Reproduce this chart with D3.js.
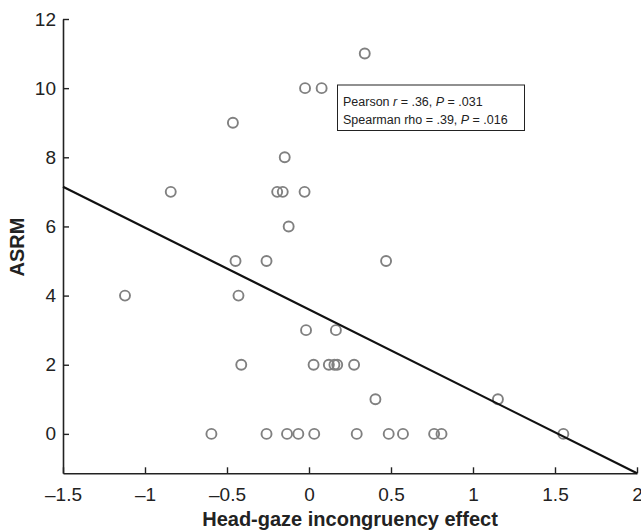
<!DOCTYPE html>
<html>
<head>
<meta charset="utf-8">
<script src="https://cdn.jsdelivr.net/npm/d3@7"></script>
<style>
  body { margin: 0; background: #fff; }
  text { font-family: Arial, "Liberation Sans", Helvetica, sans-serif; }
</style>
</head>
<body>
<div id="chart"></div>
<script>
// values
const effect = [-1.122, -0.843, -0.464, -0.448, -0.43, -0.413, -0.595, -0.259, -0.259, -0.194,
  -0.160, -0.148, -0.124, -0.134, -0.065, -0.024, 0.077, -0.027, 0.340, -0.018,
  0.164, 0.028, 0.121, 0.155, 0.172, 0.275, 0.032, 0.291, 0.405, 0.470,
  0.486, 0.573, 0.763, 0.808, 1.152, 1.551];
const asrm = [4, 7, 9, 5, 4, 2, 0, 5, 0, 7,
  7, 8, 6, 0, 0, 10, 10, 7, 11, 3,
  3, 2, 2, 2, 2, 2, 0, 0, 1, 5,
  0, 0, 0, 0, 1, 0];
const fitX = [-1.5, 2];
const fitY = [7.15, -1.14];
const xTicks = [-1.5, -1, -0.5, 0, 0.5, 1, 1.5, 2];
const xTickLabels = ["\u20131.5", "\u20131", "\u20130.5", "0", "0.5", "1", "1.5", "2"];
const yTicks = [0, 2, 4, 6, 8, 10, 12];
const statLines = [
  [["Pearson ", false], ["r", true], [" = .36, ", false], ["P", true], [" = .031", false]],
  [["Spearman rho = .39, ", false], ["P", true], [" = .016", false]]
];

const width = 641, height = 530;

const svg = d3.select("#chart")
  .append("svg")
    .attr("width", width)
    .attr("height", height);

const x = d3.scaleLinear().domain([-1.5, 2]).range([63, 637]);
const y = d3.scaleLinear().domain([-1.14, 12]).range([473.3, 19]);

const xAxis = d3.axisBottom(x)
    .tickValues(xTicks)
    .tickFormat((d, i) => xTickLabels[i])
    .tickSizeInner(-6)
    .tickSizeOuter(0)
    .tickPadding(14);

const yAxis = d3.axisLeft(y)
    .tickValues(yTicks)
    .tickSizeInner(-6)
    .tickSizeOuter(0)
    .tickPadding(7);

const gx = svg.append("g")
    .attr("transform", `translate(0, ${y.range()[0]})`)
    .call(xAxis);
const gy = svg.append("g")
    .attr("transform", `translate(${x.range()[0]}, 0)`)
    .call(yAxis);

[gx, gy].forEach(g => {
  g.select(".domain").attr("stroke", "#222").attr("stroke-width", 1.6);
  g.selectAll(".tick line").attr("stroke", "#222").attr("stroke-width", 1.4);
  g.selectAll(".tick text")
    .attr("fill", "#222")
    .style("font-size", "19px")
    .style("font-family", "Arial, 'Liberation Sans', sans-serif");
});

// points
svg.append("g")
  .selectAll("circle")
  .data(effect.map((d, i) => [d, asrm[i]]))
  .enter()
  .append("circle")
    .attr("cx", d => x(d[0]))
    .attr("cy", d => y(d[1]))
    .attr("r", 5)
    .attr("fill", "none")
    .attr("stroke", "#808080")
    .attr("stroke-width", 1.9);

// regression line
svg.append("line")
    .attr("x1", x(fitX[0])).attr("y1", y(fitY[0]))
    .attr("x2", x(fitX[1])).attr("y2", y(fitY[1]))
    .attr("stroke", "#111")
    .attr("stroke-width", 2.2);

// stats box
svg.append("rect")
    .attr("x", 337.5).attr("y", 85)
    .attr("width", 187).attr("height", 45.5)
    .attr("fill", "#fff")
    .attr("stroke", "#222")
    .attr("stroke-width", 1);

statLines.forEach((line, i) => {
  const t = svg.append("text")
      .attr("x", 343)
      .attr("y", 106 + i * 17.5)
      .attr("fill", "#222")
      .style("font-size", "12.5px");
  line.forEach(([s, it]) => {
    t.append("tspan").text(s).style("font-style", it ? "italic" : "normal");
  });
});

// axis titles
svg.append("text")
    .attr("x", (x.range()[0] + x.range()[1]) / 2)
    .attr("y", 526)
    .attr("text-anchor", "middle")
    .attr("fill", "#222")
    .style("font-size", "20px")
    .style("font-weight", "bold")
    .text("Head-gaze incongruency effect");

svg.append("text")
    .attr("transform", "translate(24, 247) rotate(-90)")
    .attr("text-anchor", "middle")
    .attr("fill", "#222")
    .style("font-size", "20px")
    .style("font-weight", "bold")
    .text("ASRM");
</script>
</body>
</html>
